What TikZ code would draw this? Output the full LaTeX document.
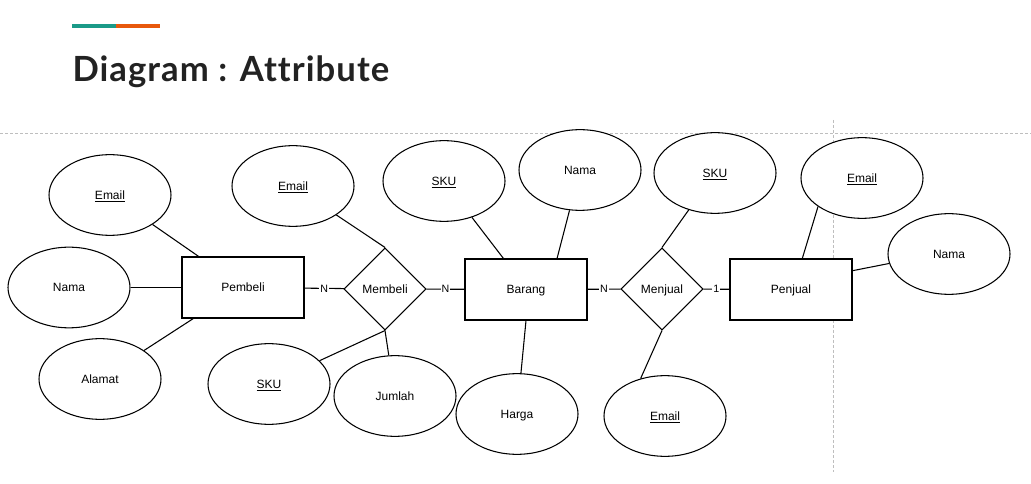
\documentclass[tikz,border=0pt]{standalone}
\usepackage{fontspec}
\setmainfont{Liberation Sans}
\newfontfamily\titlefont[LetterSpace=3, Ligatures=NoCommon]{Lato}
\usetikzlibrary{shapes.geometric}

\definecolor{barteal}{RGB}{26,154,136}
\definecolor{barorange}{RGB}{232,88,12}
\definecolor{guidegray}{RGB}{190,190,190}
\definecolor{titleink}{RGB}{34,34,34}

\begin{document}
\begin{tikzpicture}
	[
		x=0.75pt, y=-0.75pt, line width=0.8pt,
		every node/.style = {font=\fontsize{9}{11}\selectfont},
		label text/.style = {text height=6.5pt, text depth=0pt},
		attr/.style = {shape=ellipse, draw, fill=white, minimum width=91.5pt, minimum height=60.5pt, inner sep=0pt, label text},
		entity/.style = {shape=rectangle, draw, fill=white, minimum width=91.5pt, minimum height=45.75pt, label text},
		relation/.style = {shape=diamond, draw, fill=white, minimum width=61.5pt, minimum height=61.5pt, inner sep=0pt, aspect=1, label text},
		card/.style = {fill=white, inner sep=0.8pt, font=\fontsize{8}{9}\selectfont},
		guide/.style = {draw=guidegray, line width=0.6pt, dash pattern=on 2.25pt off 1.5pt}
	]
	
	\useasboundingbox (0,0) rectangle (1031,484);
	
	% heading
	\fill [barteal] (72,24) rectangle (116,28.5);
	\fill [barorange] (116,24) rectangle (160,28.5);
	\node [anchor=base west, inner sep=0pt, text=titleink, font=\titlefont\bfseries\fontsize{26}{30}\selectfont] (title) at (72,82) {Diagram : Attribute};
	
	% guides
	\draw [guide] (0,133) -- (1031,133);
	\draw [guide] (833,120) -- (833,472);
	
	% entities and relations
	\node [entity] (pembeli) at (243,287.5) {Pembeli};
	\node [entity] (barang) at (526,289.5) {Barang};
	\node [entity] (penjual) at (791,289.5) {Penjual};
	\node [relation] (membeli) at (385,289) {Membeli};
	\node [relation] (menjual) at (662,289) {Menjual};
	
	% attributes
	\node [attr] (email1) at (110,195) {\underline{Email}};
	\node [attr] (nama1) at (69,287.5) {Nama};
	\node [attr] (alamat) at (100,379) {Alamat};
	\node [attr] (email2) at (293,186) {\underline{Email}};
	\node [attr] (sku1) at (269,384) {\underline{SKU}};
	\node [attr] (jumlah) at (395,396) {Jumlah};
	\node [attr] (sku2) at (444,181) {\underline{SKU}};
	\node [attr] (nama2) at (580,170) {Nama};
	\node [attr] (harga) at (517,414) {Harga};
	\node [attr] (sku3) at (715,173) {\underline{SKU}};
	\node [attr] (email3) at (665,416) {\underline{Email}};
	\node [attr] (email4) at (862,178) {\underline{Email}};
	\node [attr] (nama3) at (949,254) {Nama};
	
	% links
	\draw (pembeli) -- node [card] {N} (membeli);
	\draw (membeli) -- node [card] {N} (barang);
	\draw (barang) -- node [card] {N} (menjual);
	\draw (menjual) -- node [card] {1} (penjual);
	
	\draw (email1) -- (pembeli.145);
	\draw (nama1) -- (pembeli);
	\draw (alamat) -- (pembeli.212);
	
	\draw (email2) -- (membeli.north);
	\draw (sku1) -- (membeli.south);
	\draw (jumlah) -- (membeli.south);
	
	\draw (sku2) -- (barang.126);
	\draw (nama2) -- (barang.45);
	\draw (harga) -- (barang.south);
	
	\draw (sku3) -- (menjual.north);
	\draw (email3.123) -- (menjual.south);
	
	\draw (email4.213) -- (penjual.70);
	\draw (nama3.189) -- (penjual.17);
	
\end{tikzpicture}
\end{document}
